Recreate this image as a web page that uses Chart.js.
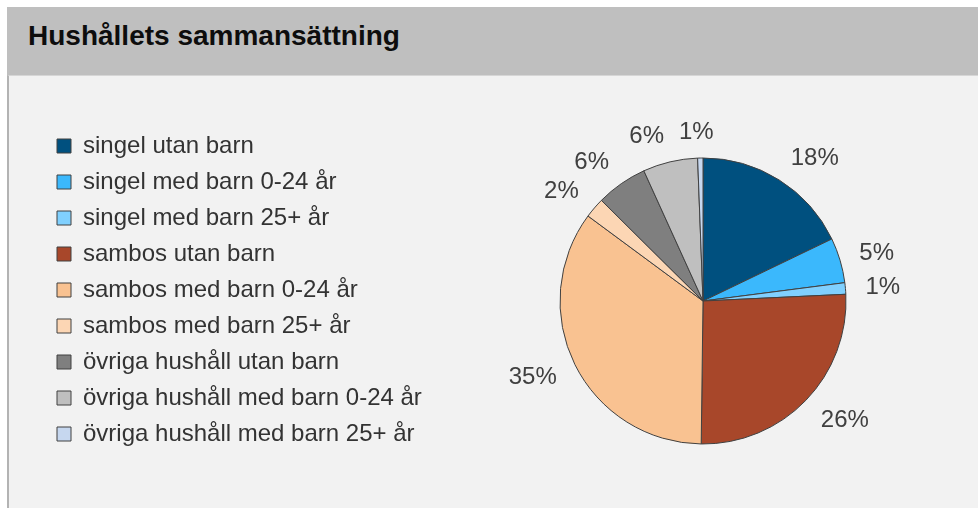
<!DOCTYPE html>
<html lang="sv">
<head>
    <meta charset="UTF-8">
    <title>Hushållets sammansättning</title>
    <script src="https://cdn.jsdelivr.net/npm/chart.js"></script>
    <style>
        body, html {
            margin: 0;
            padding: 0;
            width: 978px;
            height: 508px;
            background-color: #ffffff;
            font-family: 'Liberation Sans', Arial, sans-serif;
            overflow: hidden;
        }
        .header {
            position: absolute;
            left: 7px;
            top: 7px;
            width: 971px;
            height: 68px;
            background-color: #bfbfbf;
        }
        .header h1 {
            position: absolute;
            left: 21px;
            top: 15px;
            margin: 0;
            font-size: 28px;
            line-height: 28px;
            font-weight: bold;
            color: #0d0d0d;
        }
        .panel {
            position: absolute;
            left: 7px;
            top: 75px;
            width: 969px;
            height: 433px;
            background-color: #f2f2f2;
            border-left: 2px solid #b3b3b3;
            border-top: 1px solid #d6d6d6;
        }
        .chart-box {
            position: absolute;
            left: 0;
            top: 0;
            width: 969px;
            height: 432px;
        }
    </style>
</head>
<body>
    <div class="header">
        <h1>Hushållets sammansättning</h1>
    </div>
    <div class="panel">
        <div class="chart-box">
            <canvas id="pieChart"></canvas>
        </div>
    </div>

    <script>
        // Kategorier och andelar (%)
        const categories = [
            'singel utan barn',
            'singel med barn 0-24 år',
            'singel med barn 25+ år',
            'sambos utan barn',
            'sambos med barn 0-24 år',
            'sambos med barn 25+ år',
            'övriga hushåll utan barn',
            'övriga hushåll med barn 0-24 år',
            'övriga hushåll med barn 25+ år'
        ];
        const shares = [17.9, 5.1, 1.3, 26.0, 35.0, 2.3, 5.8, 6.2, 0.6];
        const sliceColors = ['#00507f', '#3bb8fc', '#80d0fe', '#a8472a', '#f9c291', '#fcd6b4', '#7f7f7f', '#bfbfbf', '#c6d7ef'];

        // Procentetiketter utanför cirkeln
        const outsideLabels = {
            id: 'outsideLabels',
            afterDatasetsDraw(chart) {
                const ctx = chart.ctx;
                const meta = chart.getDatasetMeta(0);
                const data = chart.data.datasets[0].data;
                const total = data.reduce((a, b) => a + b, 0);
                ctx.save();
                ctx.font = '24px "Liberation Sans", Arial, sans-serif';
                ctx.fillStyle = '#404040';
                ctx.textAlign = 'center';
                ctx.textBaseline = 'middle';
                meta.data.forEach((arc, i) => {
                    const p = arc.getProps(['x', 'y', 'startAngle', 'endAngle', 'outerRadius'], true);
                    const mid = (p.startAngle + p.endAngle) / 2;
                    const dx = Math.cos(mid);
                    const dy = Math.sin(mid);
                    const text = Math.round(data[i] / total * 100) + '%';
                    const w = ctx.measureText(text).width;
                    const ax = p.x + (p.outerRadius + 18) * dx;
                    const ay = p.y + (p.outerRadius + 18) * dy;
                    const ox = (w / 2 + 2) * Math.max(-1, Math.min(1, dx * 10));
                    const oy = 9 * dy;
                    ctx.fillText(text, ax + ox, ay + oy + 1);
                });
                ctx.restore();
            }
        };

        new Chart(document.getElementById('pieChart').getContext('2d'), {
            type: 'pie',
            data: {
                labels: categories,
                datasets: [{
                    data: shares,
                    backgroundColor: sliceColors,
                    borderColor: '#404040',
                    borderWidth: 1
                }]
            },
            options: {
                responsive: true,
                maintainAspectRatio: false,
                animation: false,
                radius: 143,
                layout: {
                    padding: { left: 36, right: 0, top: 0, bottom: 4 }
                },
                plugins: {
                    title: {
                        display: true,
                        text: ' ',
                        color: 'rgba(0,0,0,0)',
                        font: { size: 10 },
                        padding: { top: 5, bottom: 5 }
                    },
                    legend: {
                        position: 'left',
                        align: 'center',
                        maxWidth: 383,
                        labels: {
                            boxWidth: 14,
                            boxHeight: 14,
                            padding: 12,
                            color: '#333333',
                            font: { size: 24, family: '"Liberation Sans", Arial, sans-serif' }
                        }
                    },
                    tooltip: { enabled: false }
                }
            },
            plugins: [outsideLabels]
        });
    </script>
</body>
</html>
